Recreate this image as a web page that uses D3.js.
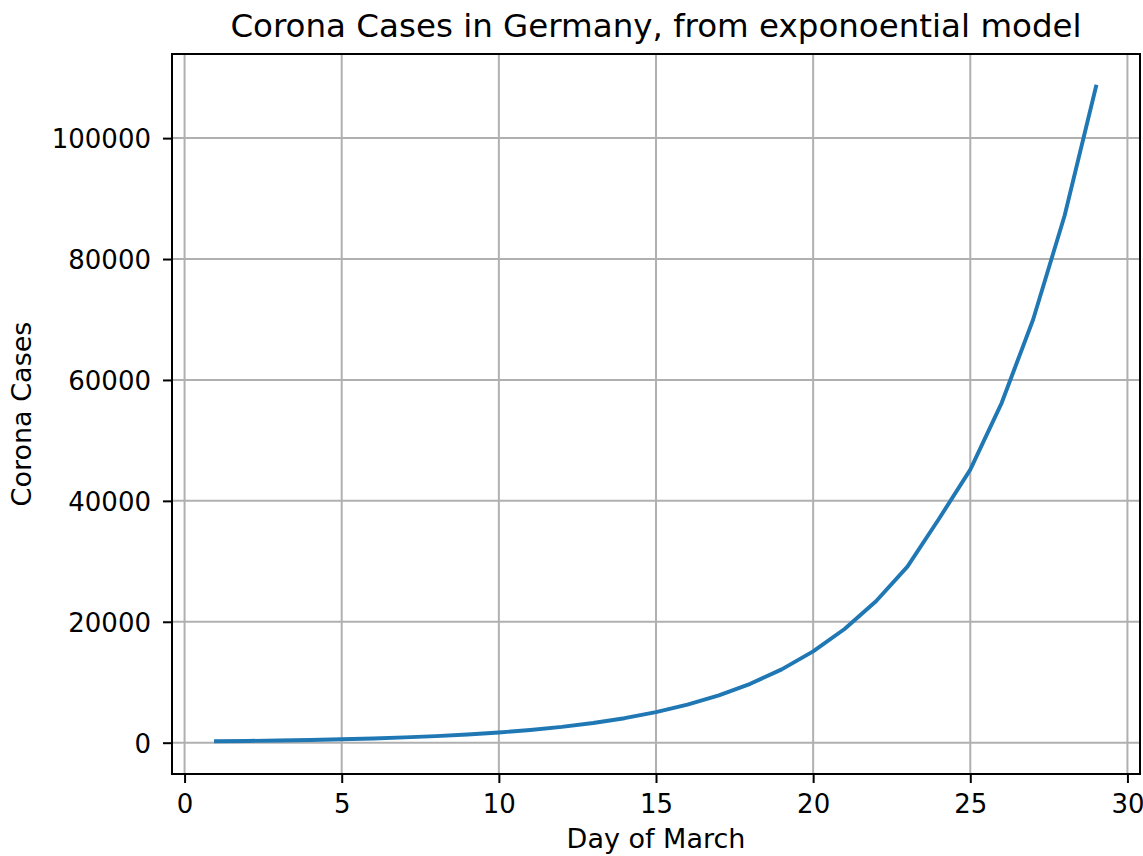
<!DOCTYPE html>
<html>
<head>
<meta charset="utf-8">
<script src="https://cdn.jsdelivr.net/npm/d3@7"></script>
<style>
  html, body { margin: 0; padding: 0; background: #fff; }
  svg { display: block; font-family: "DejaVu Sans", sans-serif; }
</style>
</head>
<body>
<svg id="chart" width="1143" height="856"></svg>
<script>
// Modelled case counts for each day of March
const days = [1, 2, 3, 4, 5, 6, 7, 8, 9, 10, 11, 12, 13, 14, 15, 16, 17, 18, 19, 20, 21, 22, 23, 24, 25, 26, 27, 28, 29];
const cases = [235, 292, 364, 453, 565, 703, 875, 1090, 1355, 1690, 2100, 2615, 3260, 4050, 5050,
               6280, 7820, 9740, 12130, 15100, 18800, 23400, 29130, 37000, 45160, 56220, 70000, 87150, 108500];
const xTicks = [0, 5, 10, 15, 20, 25, 30];
const yTicks = [0, 20000, 40000, 60000, 80000, 100000];
const titleText = "Corona Cases in Germany, from exponoential model";
const xLabel = "Day of March";
const yLabel = "Corona Cases";

const W = 1143, H = 856;
const plot = { left: 172, right: 1140, top: 54, bottom: 774 };
const tickLen = 9;
const tickFont = 26;
const labelFont = 27;
const titleFont = 32.5;
const lineColor = "#1f77b4";
const gridColor = "#b0b0b0";

// Axis limits padded by 5% of the data range on each side
const pad = (lo, hi) => [lo - 0.05 * (hi - lo), hi + 0.05 * (hi - lo)];
const [xMin, xMax] = d3.extent(days);
const [yMin, yMax] = d3.extent(cases);

const x = d3.scaleLinear().domain(pad(xMin, xMax)).range([plot.left, plot.right]);
const y = d3.scaleLinear().domain(pad(yMin, yMax)).range([plot.bottom, plot.top]);

const svg = d3.select("#chart");

// Grid
const grid = svg.append("g").attr("stroke", gridColor).attr("stroke-width", 2);
grid.selectAll("line.vx").data(xTicks).join("line")
  .attr("x1", d => x(d)).attr("x2", d => x(d))
  .attr("y1", plot.top).attr("y2", plot.bottom);
grid.selectAll("line.hy").data(yTicks).join("line")
  .attr("x1", plot.left).attr("x2", plot.right)
  .attr("y1", d => y(d)).attr("y2", d => y(d));

// Series
const line = d3.line().x((d, i) => x(days[i])).y(d => y(d));
svg.append("path")
  .datum(cases)
  .attr("d", line)
  .attr("fill", "none")
  .attr("stroke", lineColor)
  .attr("stroke-width", 3.9)
  .attr("stroke-linejoin", "round")
  .attr("stroke-linecap", "square");

// Axes
const xAxis = svg.append("g")
  .attr("transform", `translate(0,${plot.bottom})`)
  .call(d3.axisBottom(x).tickValues(xTicks).tickFormat(d3.format("d")).tickSize(tickLen).tickSizeOuter(0));
xAxis.select(".domain").remove();
xAxis.selectAll(".tick line").attr("stroke", "#000").attr("stroke-width", 2);
xAxis.selectAll(".tick text")
  .attr("y", 39).attr("dy", null)
  .attr("font-size", tickFont).attr("font-family", "DejaVu Sans").attr("fill", "#000");

const yAxis = svg.append("g")
  .attr("transform", `translate(${plot.left},0)`)
  .call(d3.axisLeft(y).tickValues(yTicks).tickFormat(d3.format("d")).tickSize(tickLen).tickSizeOuter(0));
yAxis.select(".domain").remove();
yAxis.selectAll(".tick line").attr("stroke", "#000").attr("stroke-width", 2);
yAxis.selectAll(".tick text")
  .attr("x", -21).attr("dy", "0.36em")
  .attr("font-size", tickFont).attr("font-family", "DejaVu Sans").attr("fill", "#000");

// Frame
svg.append("rect")
  .attr("x", plot.left).attr("y", plot.top)
  .attr("width", plot.right - plot.left).attr("height", plot.bottom - plot.top)
  .attr("fill", "none").attr("stroke", "#000").attr("stroke-width", 2);

// Titles
const cx = (plot.left + plot.right) / 2;
svg.append("text")
  .attr("x", cx).attr("y", 37)
  .attr("text-anchor", "middle")
  .attr("font-size", titleFont).attr("fill", "#000")
  .text(titleText);

svg.append("text")
  .attr("x", cx).attr("y", 848)
  .attr("text-anchor", "middle")
  .attr("font-size", labelFont).attr("fill", "#000")
  .text(xLabel);

svg.append("text")
  .attr("transform", `translate(31,${(plot.top + plot.bottom) / 2}) rotate(-90)`)
  .attr("text-anchor", "middle")
  .attr("font-size", labelFont).attr("fill", "#000")
  .text(yLabel);
</script>
</body>
</html>
